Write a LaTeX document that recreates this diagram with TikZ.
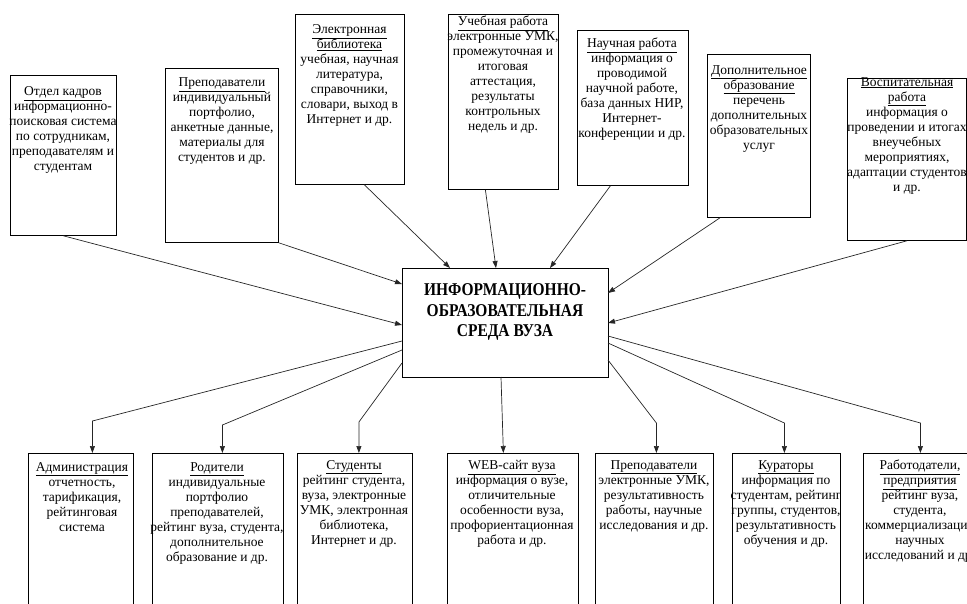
\documentclass[tikz,border=0pt]{standalone}
\usepackage{fontspec}
\setmainfont{Liberation Serif}
\newfontfamily\titlefont[FakeStretch=0.86]{Liberation Serif}
\usetikzlibrary{arrows.meta,calc}
\begin{document}
\begin{tikzpicture}[x=1pt,y=-1pt,
  boxr/.style={draw, line width=0.8pt, inner sep=0pt, anchor=north west, minimum height=170pt},
  txt/.style={align=center, inner sep=0pt, anchor=north, font=\fontsize{13.5}{15}\selectfont, execute at begin node=\strut},
  ttl/.style={align=center, inner sep=0pt, anchor=north, font=\titlefont\bfseries\fontsize{18}{20.5}\selectfont, execute at begin node=\strut},
  arr/.style={draw=black!85, line width=0.7pt, -{Triangle[length=7pt,width=5pt]}}]
\useasboundingbox (0,0) rectangle (967,603);
\clip (0,0) rectangle (967,603);
% top boxes
\node[boxr, minimum width=106pt, minimum height=160pt] (b1) at (10,75) {};
\node[boxr, minimum width=113pt, minimum height=174pt] (b2) at (165,68) {};
\node[boxr, minimum width=109pt, minimum height=170pt] (b3) at (295,14) {};
\node[boxr, minimum width=110pt, minimum height=175pt] (b4) at (448,14) {};
\node[boxr, minimum width=111pt, minimum height=155pt] (b5) at (577,30) {};
\node[boxr, minimum width=103pt, minimum height=163pt] (b6) at (707,54) {};
\node[boxr, minimum width=119pt, minimum height=162pt] (b7) at (847,78) {};
% centre
\node[boxr, minimum width=206pt, minimum height=109pt] (ce) at (402,268) {};
% bottom boxes
\node[boxr, minimum width=105pt] (a1) at (28,453) {};
\node[boxr, minimum width=131pt] (a2) at (152,453) {};
\node[boxr, minimum width=115pt] (a3) at (297,453) {};
\node[boxr, minimum width=131pt] (a4) at (447,453) {};
\node[boxr, minimum width=118pt] (a5) at (595,453) {};
\node[boxr, minimum width=108pt] (a6) at (732,453) {};
\node[boxr, minimum width=115pt] (a7) at (863,453) {};
% texts
\node[txt] (t1) at (63,86.5) {\underline{Отдел кадров}\\информационно-\\поисковая система\\по сотрудникам,\\преподавателям и\\студентам};
\node[txt] (t2) at (222,77.5) {\underline{Преподаватели}\\индивидуальный\\портфолио,\\анкетные данные,\\материалы для\\студентов и др.};
\node[txt] (t3) at (349.5,24.5) {\underline{Электронная}\\\underline{библиотека}\\учебная, научная\\литература,\\справочники,\\словари, выход в\\Интернет и др.};
\node[txt] (t4) at (503,16) {\underline{Учебная работа}\\электронные УМК,\\промежуточная и\\итоговая\\аттестация,\\результаты\\контрольных\\недель и др.};
\node[txt] (t5) at (632,38) {\underline{Научная работа}\\информация о\\проводимой\\научной работе,\\база данных НИР,\\Интернет-\\конференции и др.};
\node[txt] (t6) at (759,65) {\underline{Дополнительное}\\\underline{образование}\\перечень\\дополнительных\\образовательных\\услуг};
\node[txt] (t7) at (907,77) {\underline{Воспитательная}\\\underline{работа}\\информация о\\проведении и итогах\\внеучебных\\мероприятиях,\\адаптации студентов\\и др.};
\node[ttl] (tc) at (505,283.5) {ИНФОРМАЦИОННО-\\ОБРАЗОВАТЕЛЬНАЯ\\СРЕДА ВУЗА};
\node[txt] (u1) at (82,462) {\underline{Администрация}\\отчетность,\\тарификация,\\рейтинговая\\система};
\node[txt] (u2) at (217,462) {\underline{Родители}\\индивидуальные\\портфолио\\преподавателей,\\рейтинг вуза, студента,\\дополнительное\\образование и др.};
\node[txt] (u3) at (354,460) {\underline{Студенты}\\рейтинг студента,\\вуза, электронные\\УМК, электронная\\библиотека,\\Интернет и др.};
\node[txt] (u4) at (512,460) {\underline{WEB-сайт вуза}\\информация о вузе,\\отличительные\\особенности вуза,\\профориентационная\\работа и др.};
\node[txt] (u5) at (654,460) {\underline{Преподаватели}\\электронные УМК,\\результативность\\работы, научные\\исследования и др.};
\node[txt] (u6) at (786,460) {\underline{Кураторы}\\информация по\\студентам, рейтинг\\группы, студентов,\\результативность\\обучения и др.};
\node[txt] (u7) at (920,460) {\underline{Работодатели,}\\\underline{предприятия}\\рейтинг вуза,\\студента,\\коммерциализации\\научных\\исследований и др.};
% points on the centre box
\coordinate (i1) at (402,325);
\coordinate (i2) at (402,284);
\coordinate (i3) at (450,268);
\coordinate (i4) at (496,268);
\coordinate (i5) at (550,268);
\coordinate (i6) at (608,293);
\coordinate (i7) at (608,323);
\coordinate (o1) at (402,341);
\coordinate (o2) at (402,350);
\coordinate (o3) at (402,363);
\coordinate (o4) at (501,377);
\coordinate (o5) at (608,360);
\coordinate (o6) at (608,343);
\coordinate (o7) at (608,336);
% incoming
\draw[arr] (b1.south) -- (i1);
\draw[arr] (b2.south east) -- (i2);
\draw[arr] ($(b3.south)+(14.5,0)$) -- (i3);
\draw[arr] ($(b4.south)+(-18,0)$) -- (i4);
\draw[arr] ($(b5.south)+(-22.5,0)$) -- (i5);
\draw[arr] ($(b6.south west)+(13,0)$) -- (i6);
\draw[arr] (b7.south) -- (i7);
% outgoing
\draw[arr] (o1) -- ($(a1.north)+(11.5,-32)$) -- ($(a1.north)+(11.5,0)$);
\draw[arr] (o2) -- ($(a2.north)+(4.5,-28)$) -- ($(a2.north)+(4.5,0)$);
\draw[arr] (o3) -- ($(a3.north)+(4,-31)$) -- ($(a3.north)+(4,0)$);
\draw[arr] (o4) -- ($(a4.north)+(-9.5,0)$);
\draw[arr] (o5) -- ($(a5.north)+(2,-30)$) -- ($(a5.north)+(2,0)$);
\draw[arr] (o6) -- ($(a6.north)+(-2,-30)$) -- ($(a6.north)+(-2,0)$);
\draw[arr] (o7) -- ($(a7.north)+(-0.5,-30)$) -- ($(a7.north)+(-0.5,0)$);
\end{tikzpicture}
\end{document}
